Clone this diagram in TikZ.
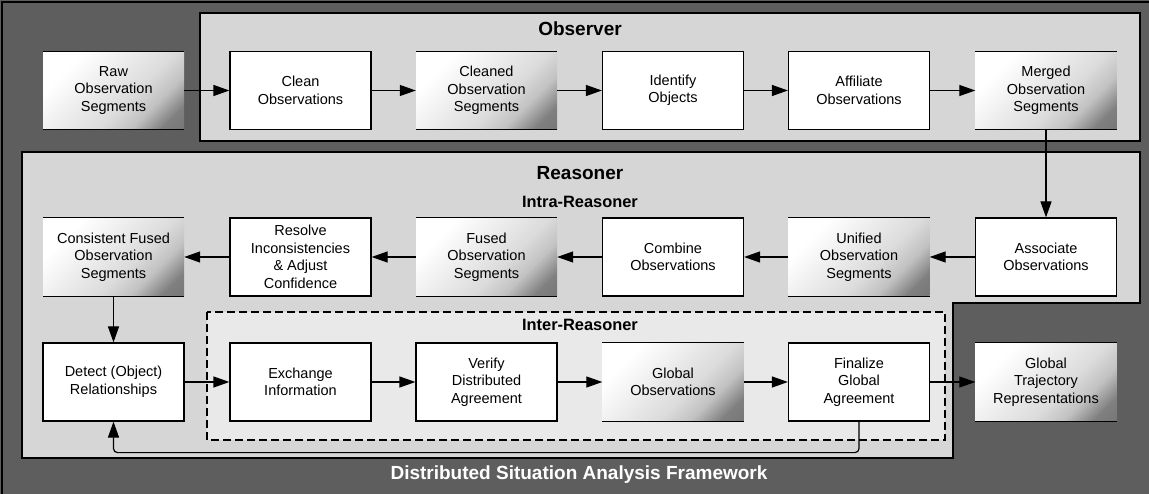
\documentclass[tikz,border=0pt]{standalone}
\usepackage{fontspec}
\setmainfont{Liberation Sans}
\usetikzlibrary{arrows.meta}

\definecolor{framegray}{HTML}{5E5E5E}
\definecolor{panelgray}{HTML}{D6D6D6}
\definecolor{innergray}{HTML}{E9E9E9}

% light diagonal sheen used for the data boxes
\pgfdeclarehorizontalshading{boxgrad}{100bp}{%
  color(0bp)=(white); color(28bp)=(white); color(45bp)=(black!8);
  color(58bp)=(black!14); color(68bp)=(black!24); color(78bp)=(black!50);
  color(100bp)=(black!60)}

\tikzset{
  proc/.style={draw, line width=1.2pt, fill=white, minimum width=141pt,
    minimum height=78pt, inner sep=0pt, align=center,
    font=\fontsize{14.5}{17.5}\selectfont},
  datab/.style={minimum width=141pt, minimum height=78pt, inner sep=0pt,
    align=center, shading=boxgrad, shading angle=-45,
    font=\fontsize{14.5}{17.5}\selectfont},
  flow/.style={line width=1.2pt, -{Triangle[length=16pt,width=11pt]}},
  bigtitle/.style={font=\bfseries\fontsize{19}{22}\selectfont},
  subtitle/.style={font=\bfseries\fontsize{16.4}{19}\selectfont},
  panel/.style={line width=1.2pt, fill=panelgray},
}

\begin{document}
\begin{tikzpicture}[x=1pt,y=-1pt]
\useasboundingbox (0,0) rectangle (1149,494);

% outer frame
\fill[framegray] (0,0) rectangle (1149,494);
\draw[line width=1.2pt] (2,497) -- (2,2) -- (1152,2);

% Observer panel
\draw[panel] (200,13) rectangle (1140,141);
% Reasoner panel with its lower-right notch
\draw[panel] (22,152) -- (1140,152) -- (1140,303) -- (953,303)
  -- (953,458) -- (22,458) -- cycle;
% Inter-Reasoner region
\draw[line width=1.2pt, fill=innergray, dash pattern=on 8pt off 4pt]
  (207,312) rectangle (945,440);

% titles
\node[bigtitle] (tObs) at (580,29) {Observer};
\node[bigtitle] (tRea) at (580,173) {Reasoner};
\node[subtitle] (tIntra) at (580,202) {Intra-Reasoner};
\node[subtitle] (tInter) at (580,325) {Inter-Reasoner};
\node[bigtitle, text=white] (tFrame) at (579,475) {Distributed Situation Analysis Framework};

% row 1
\node[datab] (raw)  at (113.5,90.5) {Raw\\Observation\\Segments};
\node[proc]  (cln)  at (300.5,90.5) {Clean\\Observations};
\node[datab] (clnd) at (486.5,90.5) {Cleaned\\Observation\\Segments};
\node[proc]  (idn)  at (673,90.5)   {Identify\\Objects};
\node[proc]  (aff)  at (859,90.5)   {Affiliate\\Observations};
\node[datab] (mrg)  at (1046,90.5)  {Merged\\Observation\\Segments};

% row 2
\node[datab] (cons) at (113.5,257) {Consistent Fused\\Observation\\Segments};
\node[proc]  (res)  at (300.5,257) {Resolve\\Inconsistencies\\\& Adjust\\Confidence};
\node[datab] (fus)  at (486.5,257) {Fused\\Observation\\Segments};
\node[proc]  (cmb)  at (673,257)   {Combine\\Observations};
\node[datab] (uni)  at (859,257)   {Unified\\Observation\\Segments};
\node[proc]  (asc)  at (1046,257)  {Associate\\Observations};

% row 3
\node[proc]  (det)  at (113.5,382) {Detect (Object)\\Relationships};
\node[proc]  (exc)  at (300.5,382) {Exchange\\Information};
\node[proc]  (ver)  at (486.5,382) {Verify\\Distributed\\Agreement};
\node[datab] (glo)  at (673,382)   {Global\\Observations};
\node[proc]  (fin)  at (859,382)   {Finalize\\Global\\Agreement};
\node[datab] (trj)  at (1046,382)  {Global\\Trajectory\\Representations};

% data boxes carry only a top and a bottom rule
\foreach \n in {raw,clnd,mrg,cons,fus,uni,glo,trj}{
  \draw[line width=1.2pt] (\n.north west) -- (\n.north east);
  \draw[line width=1.2pt] (\n.south west) -- (\n.south east);
}

% connectors
\draw[flow] (raw) -- (cln);
\draw[flow] (cln) -- (clnd);
\draw[flow] (clnd) -- (idn);
\draw[flow] (idn) -- (aff);
\draw[flow] (aff) -- (mrg);
\draw[flow] (mrg) -- (asc);
\draw[flow] (asc) -- (uni);
\draw[flow] (uni) -- (cmb);
\draw[flow] (cmb) -- (fus);
\draw[flow] (fus) -- (res);
\draw[flow] (res) -- (cons);
\draw[flow] (cons) -- (det);
\draw[flow] (det) -- (exc);
\draw[flow] (exc) -- (ver);
\draw[flow] (ver) -- (glo);
\draw[flow] (glo) -- (fin);
\draw[flow] (fin) -- (trj);
\draw[flow, rounded corners=4pt] (fin.south) -- ++(0,31) -| (det.south);
\end{tikzpicture}
\end{document}
